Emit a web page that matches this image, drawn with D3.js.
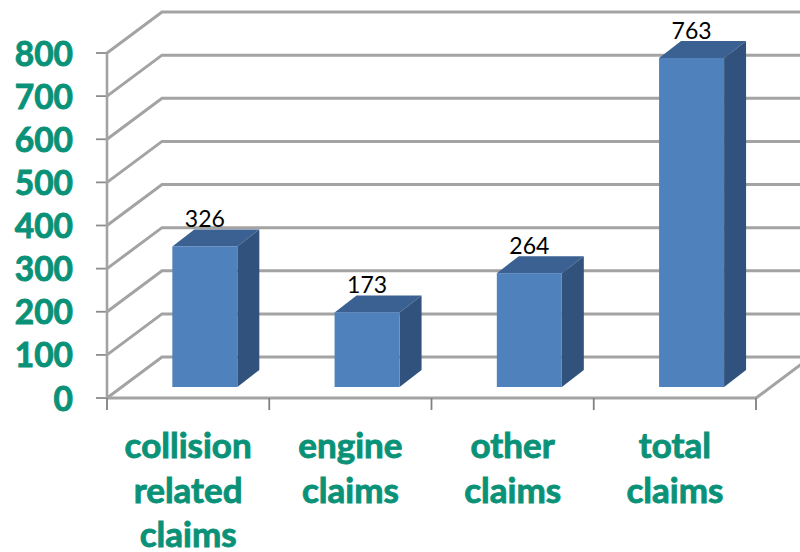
<!DOCTYPE html>
<html><head><meta charset="utf-8">
<script src="https://cdn.jsdelivr.net/npm/d3@7"></script>
<style>html,body{margin:0;background:#fff}svg{display:block}text{font-family:Lato,sans-serif}</style>
</head><body><svg id="c" width="800" height="552"></svg>
<script>
const categories=[["collision","related","claims"],["engine","claims"],["other","claims"],["total","claims"]];
const categoryKeys=["collision related claims","engine claims","other claims","total claims"];
const values=[326,173,264,763];
const yTicks=[0,100,200,300,400,500,600,700,800];
const teal="#0A9278",grid="#A3A3A3";
const svg=d3.select("#c");
const x=d3.scaleBand().domain(categoryKeys).range([107,756]);
const y=d3.scaleLinear().domain([0,800]).range([398,53]);
const back={dx:55,dy:-41},bar={off:16.7,offy:-11,dx:22,dy:-17,w:65};
const g=svg.append("g");
yTicks.forEach(t=>{
  g.append("path").attr("fill","none").attr("stroke",grid).attr("stroke-width",3)
   .attr("d",`M${x.range()[0]},${y(t)}L${x.range()[0]+back.dx},${y(t)+back.dy}L800,${y(t)+back.dy}`);
  g.append("line").attr("x1",96).attr("x2",107).attr("y1",y(t)).attr("y2",y(t)).attr("stroke","#8c8c8c").attr("stroke-width",1.8);
  svg.append("text").attr("x",73).attr("y",y(t)+4).attr("text-anchor","end").attr("dominant-baseline","middle")
   .attr("font-size",33.5).attr("font-weight",700).attr("fill",teal).attr("stroke",teal).attr("stroke-width",0.9).text(t);
});
g.append("line").attr("x1",107).attr("x2",107).attr("y1",y(800)).attr("y2",y(0)).attr("stroke",grid).attr("stroke-width",2.6);
g.append("line").attr("x1",107).attr("x2",756).attr("y1",y(0)).attr("y2",y(0)).attr("stroke",grid).attr("stroke-width",3);
g.append("line").attr("x1",756).attr("x2",756+back.dx).attr("y1",y(0)).attr("y2",y(0)+back.dy).attr("stroke",grid).attr("stroke-width",3);
[...categoryKeys.map(k=>x(k)),756].forEach(p=>g.append("line").attr("x1",p).attr("x2",p).attr("y1",y(0)).attr("y2",410).attr("stroke","#808080").attr("stroke-width",1.8));
const bw=x.bandwidth();
categoryKeys.forEach((k,i)=>{
  const l=x(k)+bw/2-bar.w/2+bar.off,r=l+bar.w,b=y(0)+bar.offy,t=y(values[i])+bar.offy;
  svg.append("path").attr("fill","#3A6192").attr("d",`M${l},${t}L${l+bar.dx},${t+bar.dy}L${r+bar.dx},${t+bar.dy}L${r},${t}Z`);
  svg.append("path").attr("fill","#31527C").attr("d",`M${r},${t}L${r+bar.dx},${t+bar.dy}L${r+bar.dx},${b+bar.dy}L${r},${b}Z`);
  svg.append("rect").attr("x",l).attr("y",t).attr("width",bar.w).attr("height",b-t).attr("fill","#4F81BD");
  svg.append("text").attr("x",l+bar.w/2).attr("y",t-19).attr("text-anchor","middle").attr("font-size",23).attr("fill","#000").text(values[i]);
  const tx=svg.append("text").attr("text-anchor","middle").attr("font-size",35).attr("font-weight",700).attr("fill",teal).attr("stroke",teal).attr("stroke-width",0.9);
  categories[i].forEach((s,j)=>tx.append("tspan").attr("x",x(k)+bw/2).attr("y",458+j*44.5).text(s));
});
</script></body></html>
